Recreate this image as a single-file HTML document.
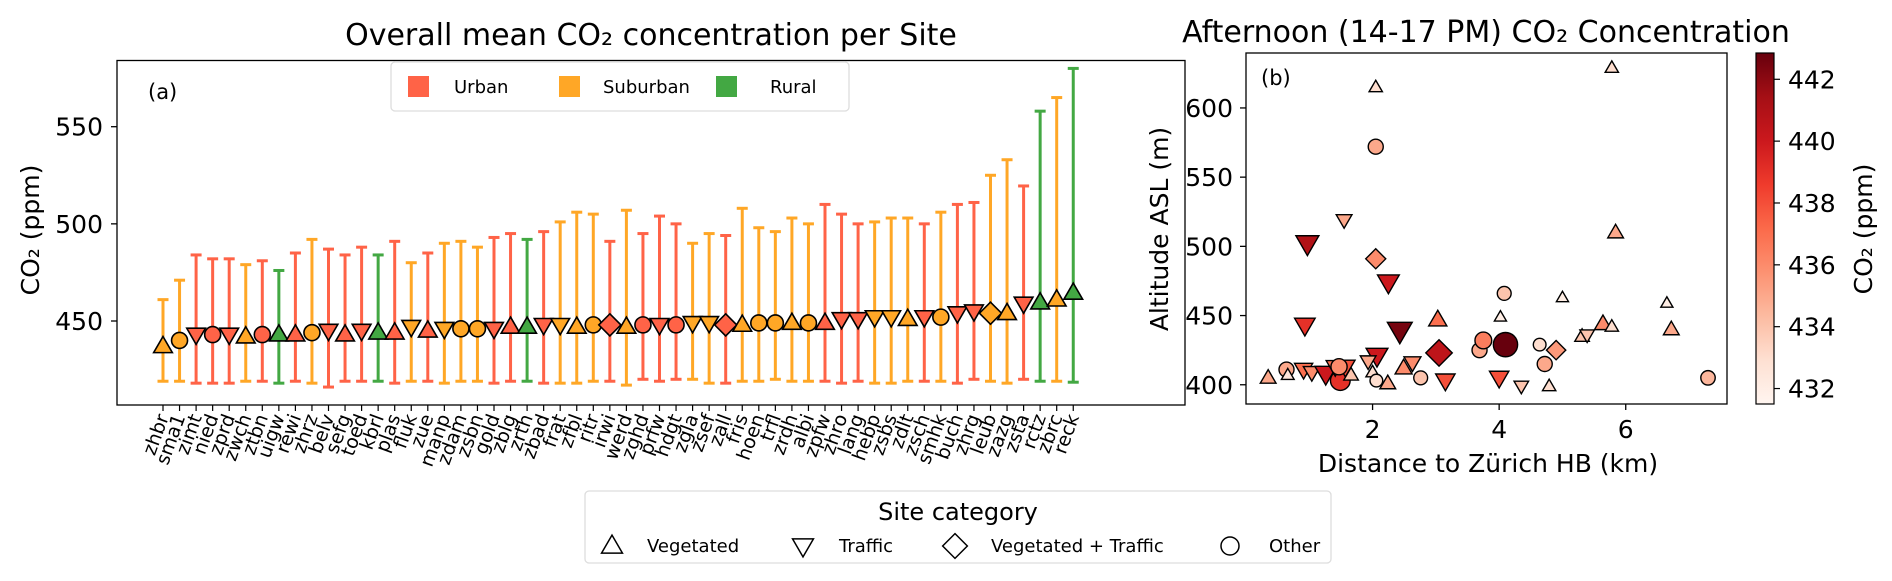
<!DOCTYPE html>
<html><head><meta charset="utf-8">
<style>
html,body{margin:0;padding:0;background:#fff;}
svg{display:block;font-family:"DejaVu Sans","Liberation Sans",sans-serif;}
</style></head>
<body>
<svg id="fig" width="1892" height="581" viewBox="0 0 1892 581" xmlns="http://www.w3.org/2000/svg">
  <rect width="1892" height="581" fill="#fff"/>
  <g id="pa"></g>
  <g id="pb"></g>
</svg>
<script>
// ---------- Panel (a) data ----------
const sites = ["zhbr","sma1","zimt","nied","zprd","zwch","ztbn","uigw","rewi","zhrz","belv","sefg","toed","kbrl","plas","fluk","zue","manp","zdam","zsbn","gold","zblg","zrth","zbad","frat","zfbl","ritr","irwi","werd","zghd","prfw","hdgt","zgla","zsef","zall","fris","hoen","trfl","zrdh","albi","zpfw","zhro","lang","hebp","zsbs","zdlt","zsch","smhk","buch","zhrg","leub","zazg","zsta","rctz","zbrc","reck"];
const siteClass = ["S","S","U","U","U","S","U","R","U","S","U","U","U","R","U","S","U","S","S","S","U","U","R","U","S","S","S","U","S","U","U","U","S","S","U","S","S","S","S","S","U","U","U","S","S","S","U","S","U","U","S","S","U","R","S","R"];
const siteShape = ["^","o","v","o","v","^","o","^","^","o","v","^","v","^","^","v","^","v","o","o","v","^","^","v","v","^","o","D","^","o","v","o","v","v","D","^","o","o","^","o","^","v","v","v","v","^","v","o","v","v","D","^","v","^","^","^"];
const meanCO2 = [437,440,443,443,443,442,443,443,443,444,445,443,445,444,444,447,445,446,446,446,446,447,447,448,448,447,448,448,447,448,448,448,449,449,448,448,449,449,449,449,449,451,451,452,452,451,452,452,454,455,454,454,459,459.5,461,464.5];
const lowCO2 = [419,419,418,418,418,419,419,418,419,418,416,419,419,419,418,419,419,418,419,419,418,419,419,418,418,418,419,419,417,420,419,420,420,418,418,419,419,420,419,419,419,418,419,418,418,419,419,419,418,420,419,418,420,419,419,418.5];
const highCO2 = [461,471,484,482,482,479,481,476,485,492,487,484,488,484,491,480,485,490,491,488,493,495,492,496,501,506,505,491,507,495,504,500,490,495,494,508,498,496,503,500,510,505,500,501,503,503,500,506,510,511,525,533,519.5,558,565,580];
const yTicksA = [450,500,550];

// ---------- Panel (b) data ----------
const distKm = [0.35,0.64,0.66,0.91,1.04,1.26,0.97,0.93,1.55,1.49,1.41,1.57,1.47,1.66,2.05,2.05,2.05,2.25,2.07,1.93,2.0,2.06,2.24,2.43,2.49,2.63,2.76,3.03,3.05,3.15,3.69,3.75,4.02,4.1,4.08,4.0,4.35,4.64,4.72,4.79,4.9,5.0,5.31,5.39,5.64,5.78,5.78,5.84,6.65,6.72,7.3];
const altitude = [405,411,407,411,409,408,502,443,519,403,413,413,413,407,572,615,491,474,421,417,409,403,401,439,412,416,405,447,423,403,425,432,449,429,466,405,399,429,415,399,425,463,435,436,444,442,629,510,459,440,405];
const ptShape = ["^","o","^","v","v","v","v","v","v","o","v","v","o","^","o","^","D","v","v","v","^","o","^","v","^","v","o","^","D","v","o","o","^","o","o","v","v","o","o","^","D","^","^","v","^","^","^","^","^","^","o"];
const ptCO2 = [435,435,432.5,437,436,440,441,439,435,439,437,438,436,434,435,433,436,440,440,435,433,433,435,442.5,436,436,434,437,440.5,438,435,436.5,432,443,434,438,434,433,435,433,435.5,432,434,434,436,433,433,435,432,435,434.5];
const xTicksB = [2,4,6];
const yTicksB = [400,450,500,550,600];
const cbTicks = [432,434,436,438,440,442];

const NS="http://www.w3.org/2000/svg";
function mk(tag, attrs, parent){const e=document.createElementNS(NS,tag);for(const k in attrs)e.setAttribute(k,attrs[k]);parent.appendChild(e);return e;}
const pa=document.getElementById('pa'), pb=document.getElementById('pb');
const colors={U:"#ff6347",S:"#ffa726",R:"#43a843"};
function markerPath(shape,cx,cy,r){
  if(shape==="^")return `M${cx},${cy-r*1.15} L${cx+r*1.1},${cy+r*0.75} L${cx-r*1.1},${cy+r*0.75} Z`;
  if(shape==="v")return `M${cx},${cy+r*1.15} L${cx+r*1.1},${cy-r*0.75} L${cx-r*1.1},${cy-r*0.75} Z`;
  if(shape==="D")return `M${cx},${cy-r*1.3} L${cx+r*1.3},${cy} L${cx},${cy+r*1.3} L${cx-r*1.3},${cy} Z`;
  return null;
}
function drawMarker(parent,shape,cx,cy,r,fill,sw,name){
  let el;
  if(shape==="o") el=mk('circle',{cx:cx,cy:cy,r:r,fill:fill,stroke:"#000","stroke-width":sw},parent);
  else el=mk('path',{d:markerPath(shape,cx,cy,r),fill:fill,stroke:"#000","stroke-width":sw,"stroke-linejoin":"miter"},parent);
  
  
  return el;
}

// ---------- Panel (a) ----------
const A={l:117,r:1185,t:60.5,b:405,x0:163,dx:16.55};
const aPxPer=1.943, aRef=450, aRefY=321;
const ax=i=>A.x0+i*A.dx;
const ay=v=>aRefY-(v-aRef)*aPxPer;
let t=mk('text',{x:651,y:45,"text-anchor":"middle","font-size":30},pa);t.textContent="Overall mean CO₂ concentration per Site";

yTicksA.forEach(v=>{
  const y=ay(v);
  const l=mk('line',{x1:A.l-6,x2:A.l,y1:y,y2:y,stroke:"#000","stroke-width":1.3},pa);
  
  const tx=mk('text',{x:A.l-14,y:y+9,"text-anchor":"end","font-size":25},pa);tx.textContent=v;
  
});
t=mk('text',{x:0,y:0,"text-anchor":"middle","font-size":25,transform:"translate(39,230) rotate(-90)"},pa);t.textContent="CO₂ (ppm)";

sites.forEach((s,i)=>{
  const x=ax(i), c=colors[siteClass[i]];
  const g=mk('g',{},pa);
  
  mk('line',{x1:x,x2:x,y1:ay(lowCO2[i]),y2:ay(highCO2[i]),stroke:c,"stroke-width":3},g);
  mk('line',{x1:x-5.5,x2:x+5.5,y1:ay(lowCO2[i]),y2:ay(lowCO2[i]),stroke:c,"stroke-width":3},g);
  mk('line',{x1:x-5.5,x2:x+5.5,y1:ay(highCO2[i]),y2:ay(highCO2[i]),stroke:c,"stroke-width":3},g);
  drawMarker(g,siteShape[i],x,ay(meanCO2[i]),siteShape[i]==="o"?8:8.5,c,1.6,'mean-marker');
  const tk=mk('line',{x1:x,x2:x,y1:A.b,y2:A.b+6,stroke:"#000","stroke-width":1.2},pa);
  
  const lb=mk('text',{x:0,y:0,"text-anchor":"end","font-size":19,transform:`translate(${x+6},${A.b+12}) rotate(-70)`},pa);
  lb.textContent=s;
  
});
const fa=mk('rect',{x:A.l,y:A.t,width:A.r-A.l,height:A.b-A.t,fill:"none",stroke:"#000","stroke-width":1.3},pa);

t=mk('text',{x:148,y:99,"font-size":21},pa);t.textContent="(a)";

// legend a
const lg=mk('g',{},pa);
mk('rect',{x:391,y:62,width:458,height:49,rx:4,fill:"#fff",stroke:"#ddd","stroke-width":1.3},lg);
[["Urban","U",408,454],["Suburban","S",559,603],["Rural","R",716,770]].forEach(([n,k,x,tx])=>{
  const e=mk('g',{},lg);
  mk('rect',{x:x,y:76,width:21,height:21,fill:colors[k]},e);
  const tt=mk('text',{x:tx,y:93,"font-size":18},e);tt.textContent=n;
});

// ---------- Panel (b) ----------
const B={l:1246,r:1727,t:53,b:404,xmin:0.0,xmax:7.6,ymin:386.1,ymax:639.7};
const bx=v=>B.l+(v-B.xmin)/(B.xmax-B.xmin)*(B.r-B.l);
const by=v=>B.b-(v-B.ymin)/(B.ymax-B.ymin)*(B.b-B.t);
const CB={l:1756,r:1774,t:53,b:404,min:431.5,max:442.85};
const stops=[[0,[255,245,240]],[0.125,[254,224,210]],[0.25,[252,187,161]],[0.375,[252,146,114]],[0.5,[251,106,74]],[0.625,[239,59,44]],[0.75,[203,24,29]],[0.875,[165,15,21]],[1,[103,0,13]]];
function reds(v){let f=(v-CB.min)/(CB.max-CB.min);f=Math.max(0,Math.min(1,f));
  for(let i=1;i<stops.length;i++){if(f<=stops[i][0]){const a=stops[i-1],b=stops[i],u=(f-a[0])/(b[0]-a[0]);
    const c=a[1].map((q,j)=>Math.round(q+(b[1][j]-q)*u));return `rgb(${c.join(',')})`;}}return "rgb(103,0,13)";}
t=mk('text',{x:1486,y:42,"text-anchor":"middle","font-size":30},pb);t.textContent="Afternoon (14-17 PM) CO₂ Concentration";

xTicksB.forEach(v=>{const x=bx(v);
  const l=mk('line',{x1:x,x2:x,y1:B.b,y2:B.b+6,stroke:"#000","stroke-width":1.3},pb);
  const tx=mk('text',{x:x,y:438,"text-anchor":"middle","font-size":25},pb);tx.textContent=v;});
yTicksB.forEach(v=>{const y=by(v);
  const l=mk('line',{x1:B.l-6,x2:B.l,y1:y,y2:y,stroke:"#000","stroke-width":1.3},pb);
  const tx=mk('text',{x:B.l-13,y:y+9,"text-anchor":"end","font-size":25},pb);tx.textContent=v;});
t=mk('text',{x:1488,y:472,"text-anchor":"middle","font-size":25},pb);t.textContent="Distance to Zürich HB (km)";

t=mk('text',{x:0,y:0,"text-anchor":"middle","font-size":25,transform:"translate(1168,229) rotate(-90)"},pb);t.textContent="Altitude ASL (m)";

const pts=mk('g',{},pb);
distKm.forEach((d,i)=>{
  const r=5.5+(ptCO2[i]-432)*0.55;
  drawMarker(pts,ptShape[i],bx(d),by(altitude[i]),ptShape[i]==="o"?r*1.05:r,reds(ptCO2[i]),1.4,'site-point');
});
const fb=mk('rect',{x:B.l,y:B.t,width:B.r-B.l,height:B.b-B.t,fill:"none",stroke:"#000","stroke-width":1.3},pb);

t=mk('text',{x:1261,y:85,"font-size":21},pb);t.textContent="(b)";

// colorbar
const defs=mk('defs',{},pb);
const grad=mk('linearGradient',{id:"cbg",x1:0,y1:1,x2:0,y2:0},defs);
stops.forEach(s=>mk('stop',{offset:s[0],"stop-color":`rgb(${s[1].join(',')})`},grad));
const cb=mk('rect',{x:CB.l,y:CB.t,width:CB.r-CB.l,height:CB.b-CB.t,fill:"url(#cbg)",stroke:"#000","stroke-width":1.2},pb);

cbTicks.forEach(v=>{const y=CB.b-(v-CB.min)/(CB.max-CB.min)*(CB.b-CB.t);
  const l=mk('line',{x1:CB.r,x2:CB.r+6,y1:y,y2:y,stroke:"#000","stroke-width":1.2},pb);
  const tx=mk('text',{x:1788,y:y+9,"font-size":25},pb);tx.textContent=v;});
t=mk('text',{x:0,y:0,"text-anchor":"middle","font-size":25,transform:"translate(1872,229) rotate(-90)"},pb);t.textContent="CO₂ (ppm)";


// ---------- Site category legend ----------
const sl=mk('g',{},document.getElementById('fig'));
mk('rect',{x:585,y:491,width:746,height:72,rx:4,fill:"#fff",stroke:"#ddd","stroke-width":1.3},sl);
t=mk('text',{x:958,y:520,"text-anchor":"middle","font-size":24},sl);t.textContent="Site category";
[["^","Vegetated",612,647],["v","Traffic",803,839],["D","Vegetated + Traffic",955,991],["o","Other",1230,1269]].forEach(([s,n,mx,tx])=>{
  const e=mk('g',{},sl);
  drawMarker(e,s,mx,546,s==="o"?9:9.5,"#fff",1.5,'legend-marker');
  const tt=mk('text',{x:tx,y:552,"font-size":18},e);tt.textContent=n;
});
</script>
</body></html>
